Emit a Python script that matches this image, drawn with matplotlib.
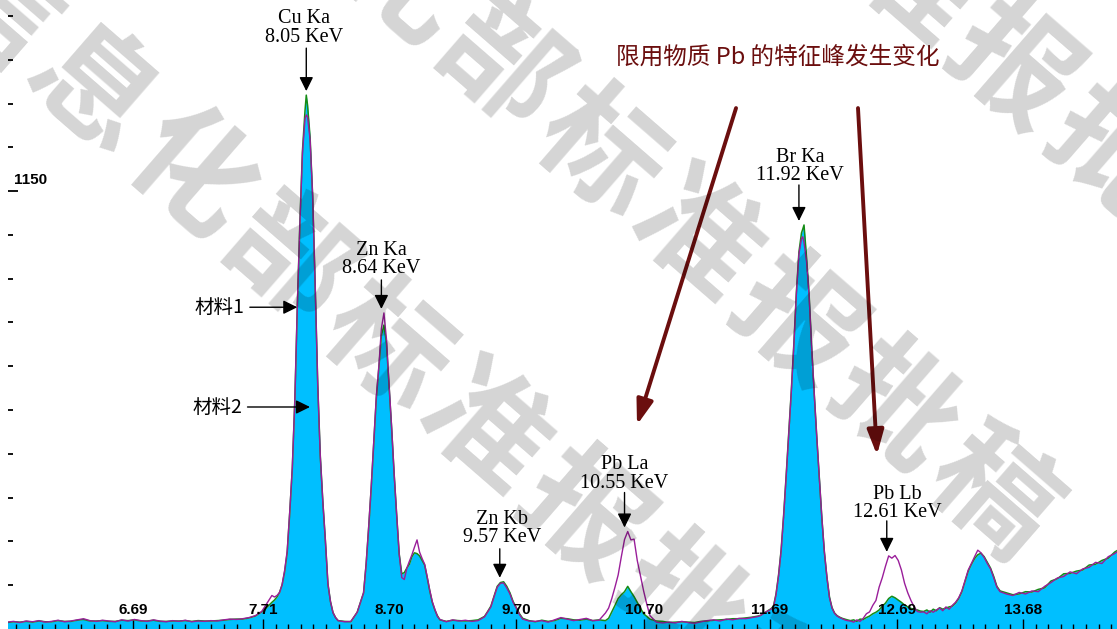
import numpy as np
import matplotlib
matplotlib.use("Agg")
import matplotlib.pyplot as plt

# ---------------- spectrum data (energy in keV, counts) ----------------
energy_kev = [
    5.70, 5.75, 5.80, 5.85, 5.90, 5.95, 6.00, 6.05, 6.10, 6.15, 6.20, 6.25, 6.30,
    6.35, 6.40, 6.45, 6.50, 6.55, 6.60, 6.65, 6.70, 6.75, 6.80, 6.85, 6.90, 6.95,
    7.00, 7.05, 7.10, 7.15, 7.20, 7.25, 7.30, 7.35, 7.40, 7.45, 7.50,
    7.55, 7.60, 7.65, 7.70, 7.75, 7.78, 7.80, 7.82,
    7.84, 7.86, 7.88, 7.90, 7.92, 7.94, 7.96, 7.98, 8.00, 8.02, 8.04,
    8.05,
    8.06, 8.08, 8.10, 8.12, 8.14, 8.16, 8.18, 8.20, 8.22, 8.24, 8.26, 8.28, 8.30,
    8.35, 8.40, 8.45,
    8.48, 8.50, 8.52, 8.54, 8.56, 8.58, 8.60, 8.62, 8.64, 8.66, 8.68, 8.70, 8.72,
    8.74, 8.76, 8.78, 8.80, 8.82, 8.84, 8.86, 8.88, 8.90, 8.92, 8.94, 8.96, 8.98,
    9.00, 9.02, 9.04, 9.06, 9.08, 9.10,
    9.15, 9.20, 9.25, 9.30, 9.35, 9.40, 9.45,
    9.475, 9.50, 9.525, 9.55, 9.575, 9.60, 9.625, 9.65, 9.675, 9.70, 9.725, 9.75,
    9.80, 9.85, 9.90, 9.95, 10.00, 10.05, 10.10, 10.15, 10.20, 10.25, 10.30, 10.35, 10.40,
    10.425, 10.45, 10.475, 10.50, 10.525, 10.55, 10.575, 10.60, 10.625, 10.65,
    10.675, 10.70, 10.725, 10.75,
    10.80, 10.85, 10.90, 10.95, 11.00, 11.05, 11.10, 11.15, 11.20, 11.25, 11.30,
    11.35, 11.40, 11.45, 11.50, 11.55, 11.60,
    11.62, 11.64, 11.66, 11.68, 11.70, 11.72, 11.74, 11.76, 11.78, 11.80, 11.82,
    11.84, 11.86, 11.88, 11.90, 11.92, 11.94,
    11.95,
    11.96, 11.98, 12.00, 12.02, 12.04, 12.06, 12.08, 12.10, 12.12, 12.14, 12.16,
    12.18, 12.20, 12.22, 12.24, 12.26, 12.28, 12.30,
    12.325, 12.35, 12.375, 12.40, 12.425, 12.45, 12.475, 12.50, 12.525, 12.55,
    12.575, 12.60, 12.625, 12.65, 12.675, 12.70, 12.725, 12.75, 12.775, 12.80,
    12.825, 12.85, 12.875, 12.90, 12.925, 12.95, 12.975, 13.00, 13.025, 13.05,
    13.075, 13.10, 13.125, 13.15, 13.175, 13.20, 13.225, 13.25, 13.275, 13.30,
    13.325, 13.35, 13.375, 13.40, 13.425, 13.45, 13.475, 13.50,
    13.55, 13.60, 13.65, 13.70, 13.75, 13.80, 13.85, 13.90, 13.95, 14.00, 14.05,
    14.10, 14.15, 14.20, 14.25, 14.30, 14.35, 14.40,
    14.43,
]

# 材料1 (outline only)
counts_material1 = [
    18, 20, 17, 21, 19, 22, 18, 20, 23, 19, 21, 24, 27,
    22, 20, 23, 21, 19, 24, 21, 25, 22, 20, 24, 21, 19,
    22, 20, 23, 19, 21, 20, 22, 21, 24, 26, 25,
    27, 30, 35, 46, 72, 88, 84, 88,
    96, 116, 154, 205, 308, 423, 600, 853, 1065, 1250, 1340,
    1350,
    1345, 1285, 1138, 901, 643, 455, 335, 233, 119, 72, 43, 30, 22,
    19, 20, 44,
    75, 95, 170, 268, 374, 493, 610, 690, 789, 830, 761, 644, 533,
    409, 300, 197, 135, 130, 160, 178, 195, 215, 234, 202, 185, 170,
    137, 102, 72, 52, 33, 25,
    19, 24, 21, 23, 20, 22, 32,
    45, 58, 85, 110, 120, 121, 108, 92, 70, 55, 38, 26,
    21, 20, 22, 18, 24, 30, 26, 22, 25, 28, 22, 23, 42,
    55, 80, 110, 142, 190, 235, 256, 234, 236, 180,
    140, 100, 65, 35,
    18, 16, 18, 16, 20, 17, 15, 19, 22, 24, 21,
    26, 24, 28, 27, 30, 33,
    36, 40, 45, 48, 52, 58, 90, 140, 205, 297, 402,
    514, 622, 745, 880, 985, 1025,
    1030,
    1015, 965, 875, 740, 619, 505, 400, 292, 202, 136, 82,
    55, 41, 34, 30, 27, 24, 22,
    21, 18, 24, 20, 28, 40, 45, 62, 75, 110,
    135, 165, 192, 186, 193, 180, 155, 120, 95, 75,
    58, 46, 44, 45, 40, 48, 44, 50, 55, 48,
    58, 52, 62, 70, 82, 100, 128, 155, 172, 190,
    207, 200, 188, 172, 158, 135, 110, 98,
    92, 88, 96, 92, 100, 98, 112, 122, 134, 138, 150,
    145, 158, 162, 175, 172, 190, 198,
    205,
]

# 材料2 (filled area)
counts_material2 = [
    17, 19, 18, 20, 18, 21, 19, 19, 22, 20, 20, 23, 25,
    21, 21, 22, 20, 20, 23, 22, 24, 21, 21, 23, 20, 20,
    21, 21, 22, 20, 22, 21, 21, 22, 23, 25, 26,
    26, 29, 34, 45, 60, 70, 76, 84,
    96, 116, 150, 200, 305, 420, 600, 850, 1070, 1256, 1361,
    1402,
    1376, 1291, 1138, 901, 643, 455, 335, 233, 119, 72, 43, 30, 22,
    20, 19, 44,
    75, 95, 170, 265, 370, 490, 605, 685, 770, 798, 750, 640, 530,
    409, 300, 197, 145, 148, 160, 170, 190, 200, 198, 192, 180, 168,
    135, 100, 70, 50, 35, 24,
    20, 23, 22, 21, 22, 24, 33,
    46, 60, 86, 112, 122, 124, 112, 95, 72, 56, 40, 28,
    22, 19, 23, 20, 22, 28, 27, 24, 23, 26, 22, 24, 22,
    28, 45, 62, 80, 90, 98, 112, 98, 85, 70,
    55, 40, 33, 26,
    21, 20, 17, 18, 19, 18, 17, 20, 21, 23, 24,
    25, 27, 27, 29, 31, 34,
    36, 41, 44, 49, 53, 60, 92, 142, 207, 300, 405,
    515, 625, 748, 885, 990, 1040,
    1050,
    1061, 975, 878, 742, 620, 505, 400, 292, 202, 136, 84,
    56, 42, 35, 31, 28, 26, 24,
    22, 24, 20, 26, 25, 30, 34, 40, 44, 50,
    60, 68, 80, 86, 82, 76, 70, 63, 58, 54,
    52, 50, 47, 46, 50, 44, 52, 48, 56, 52,
    55, 58, 60, 68, 80, 98, 125, 152, 170, 185,
    195, 199, 190, 175, 160, 138, 112, 100,
    95, 90, 92, 98, 97, 104, 108, 126, 132, 145, 146,
    152, 155, 168, 170, 180, 186, 202,
    208,
]

# characteristic lines marked on the spectrum
peak_names = ["Cu Ka", "Zn Ka", "Zn Kb", "Pb La", "Br Ka", "Pb Lb"]
peak_kev = [8.05, 8.64, 9.57, 10.55, 11.92, 12.61]

# axis labelling
energy_tick_labels = ["6.69", "7.71", "8.70", "9.70", "10.70", "11.69", "12.69", "13.68"]
count_tick_step = 115
count_tick_label = 1150

title_text = "限用物质 Pb 的特征峰发生变化"
material_labels = ["材料1", "材料2"]
watermark_text = "信息化部标准报批稿"

# ---------------- figure ----------------
W, H = 1117, 629
PX = 72.0 / 100.0          # points per pixel at 100 dpi
XLIM = (5.7069, 14.4186)
YLIM = (0, 1651.8)

fig = plt.figure(figsize=(W / 100, H / 100), dpi=100, facecolor="white")
ax = fig.add_axes([8 / W, 0, 1 - 8 / W, 1])
for sp in ax.spines.values():
    sp.set_visible(False)

E = np.array(energy_kev)
m1 = np.array(counts_material1, dtype=float)
m2 = np.array(counts_material2, dtype=float)

fill_color = "#00BFFF"
green = "#168C16"
purple = "#9A1E9A"

ax.fill_between(E, m2, 0, color=fill_color, lw=0, zorder=1)
ax.plot(E, m2, color=green, lw=1.1, zorder=2)
ax.plot(E, m1, color=purple, lw=1.0, zorder=3)

# x ticks: major at labelled energies, ten subdivisions between them
major = [float(t) for t in energy_tick_labels]
minor = []
for a, b in zip(major[:-1], major[1:]):
    minor += list(np.linspace(a, b, 11)[1:-1])
d0 = (major[1] - major[0]) / 10
d1 = (major[-1] - major[-2]) / 10
minor += [major[0] - k * d0 for k in range(1, 12)]
minor += [major[-1] + k * d1 for k in range(1, 12)]
minor = [v for v in minor if XLIM[0] < v < XLIM[1]]
ax.set_xticks(major)
ax.set_xticks(minor, minor=True)
ax.set_xticklabels([])
ax.tick_params(axis="x", which="major", direction="in", length=10 * PX, width=1.0, color="black")
ax.tick_params(axis="x", which="minor", direction="in", length=5 * PX, width=1.0, color="black")

# y ticks: short dashes every 115 counts, only 1150 labelled
ax.set_yticks([count_tick_label])
ax.set_yticklabels([])
ax.set_yticks([k * count_tick_step for k in range(1, 15)
               if k * count_tick_step != count_tick_label], minor=True)
ax.tick_params(axis="y", which="major", direction="in", length=10 * PX, width=1.3, color="black")
ax.tick_params(axis="y", which="minor", direction="in", length=5 * PX, width=1.3, color="black")

ax.set_xlim(*XLIM)
ax.set_ylim(*YLIM)

for lab, v in zip(energy_tick_labels, major):
    ax.text(v, 19 / H, lab, transform=ax.get_xaxis_transform(), ha="center", va="center",
            fontsize=11, fontweight="bold", family="Liberation Sans", zorder=5)
ax.annotate(str(count_tick_label), xy=(0, count_tick_label), xycoords=("axes fraction", "data"),
            xytext=(6 * PX, 11 * PX), textcoords="offset points", ha="left", va="center",
            fontsize=11, fontweight="bold", family="Liberation Sans")

# peak annotations
def peak_top(e):
    sel = (E > e - 0.06) & (E < e + 0.06)
    return max(m1[sel].max(), m2[sel].max())

arrow_len_px = [43, 29, 29, 35, 36, 31]
label_dx_px = [-2, 0, 2, 0, 1, 11]
label_gap_px = [20, 20.5, 20.5, 18.5, 18.5, 17.5]
gap_px = 4
black_head = "-|>,head_length=0.85,head_width=0.42"
for name, e, L, dx, g in zip(peak_names, peak_kev, arrow_len_px, label_dx_px, label_gap_px):
    top = peak_top(e)
    ax.annotate("", xy=(e, top), xytext=(0, (gap_px + L) * PX), textcoords="offset points",
                arrowprops=dict(arrowstyle=black_head, mutation_scale=10, lw=1.0,
                                color="black", shrinkA=0, shrinkB=gap_px * PX), zorder=6)
    ax.annotate(f"{name}\n{e:.2f} KeV", xy=(e, top),
                xytext=(dx * PX, (gap_px + L + g) * PX), textcoords="offset points",
                ha="center", va="center", fontsize=14.5, family="Liberation Serif",
                linespacing=0.95, zorder=6)

# material labels
left = (E > 7.85) & (E <= 8.05)
y_m1 = 845
x_m1 = np.interp(y_m1, m1[left], E[left])
ax.annotate(material_labels[0], xy=(x_m1, y_m1), xytext=(-53 * PX, 0), textcoords="offset points",
            ha="right", va="center", fontsize=14, family=["Noto Sans CJK SC", "DejaVu Sans"],
            arrowprops=dict(arrowstyle=black_head, mutation_scale=10, lw=1.0, color="black",
                            shrinkA=2, shrinkB=0), zorder=6)
ax.annotate(material_labels[1], xy=(8.079, 583), xytext=(-68 * PX, 0), textcoords="offset points",
            ha="right", va="center", fontsize=14, family=["Noto Sans CJK SC", "DejaVu Sans"],
            arrowprops=dict(arrowstyle=black_head, mutation_scale=10, lw=1.0, color="black",
                            shrinkA=2, shrinkB=0), zorder=6)

# call-out title and arrows towards the lead peaks
dark_red = "#6B0E0E"
ax.text((778 - 8) / (W - 8), 1 - 57 / H, title_text, transform=ax.transAxes, ha="center",
        va="center", fontsize=17, color=dark_red, family=["Noto Sans CJK SC", "DejaVu Sans"],
        zorder=6)
callout_tails = [(11.426, 1368), (12.384, 1368)]
callout_tips = [(10.648, 536), (12.533, 457)]
for tail, tip in zip(callout_tails, callout_tips):
    ax.annotate("", xy=tip, xytext=tail,
                arrowprops=dict(arrowstyle="-|>,head_length=1.5,head_width=0.5", mutation_scale=10,
                                lw=2.8, color=dark_red, shrinkA=0, shrinkB=0), zorder=6)

# diagonal draft watermark
wm_angle = 41.0
wm_step = 130.0
dxs = np.cos(np.radians(wm_angle)) * wm_step
dys = np.sin(np.radians(wm_angle)) * wm_step
wm_lines = [(4.0, 385.0, 348.0), (5.5, 745.0, 282.5), (6.0, 1010.0, 70.0)]
for idx0, x0, y0 in wm_lines:
    for i, ch in enumerate(watermark_text):
        x = x0 + (i - idx0) * dxs
        y = y0 + (i - idx0) * dys
        if -120 < x < W + 120 and -120 < y < H + 120:
            fig.text(x / W, 1 - y / H, ch, rotation=-wm_angle, rotation_mode="anchor",
                     ha="center", va="center", fontsize=88, fontweight="bold",
                     family=["Noto Sans CJK SC"], color="black", alpha=0.17, zorder=20)

fig.savefig("out.png", dpi=100, facecolor="white")
